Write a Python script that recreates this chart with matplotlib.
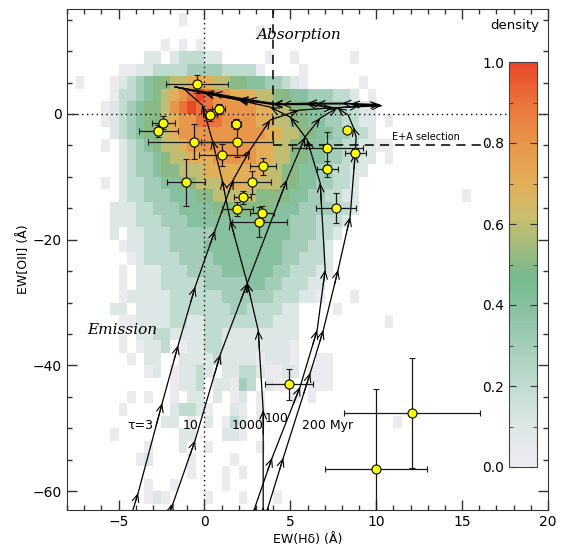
import numpy as np
import matplotlib
matplotlib.use('Agg')
import matplotlib.pyplot as plt
from matplotlib.colors import LinearSegmentedColormap

# ---- density map: bins 0.5 A (Hd) x 2 A (OII), rows from OII=16 down to -64
# '.' empty, '0' trace, '1'..'9' tenths, 'X' = 1.0
# column groups: [-8,-3) [-3,2) [2,7) [7,12) [12,16)
hd_edges = np.arange(-8.0, 16.01, 0.5)
oii_edges = np.arange(16.0, -64.01, -2.0)
density_rows = [
    ".......... ...0...... .......... .......... ........",  # 14..16
    ".......... .......... ..0....... .......... ........",  # 12..14
    ".......... .0.0.0.... .......... .......... ........",  # 10..12
    ".........1 1.122211.. ...0..0... ...0...... ........",  # 8..10
    "......0011 2222333322 220....0.. .......... ........",  # 6..8
    ".0...01234 5566777665 54433210.. ....0..... ........",  # 4..6
    ".....02234 56789X9887 7766554433 3221.0.... ........",  # 2..4
    "....012345 5689X99888 8877665544 332211.... ........",  # 0..2
    "....012345 5678899988 8877665544 332211.0.. ........",  # -2..0
    ".....12345 5678888888 8887766554 433221.... ........",  # -4..-2
    "....0.1234 5667888888 8877665544 33221100.. ........",  # -6..-4
    "......1233 4566777888 8877665544 332211.0.. ........",  # -8..-6
    "......1233 4556667777 7776655443 32211..... ........",  # -10..-8
    "....0.1223 3445566677 7766655443 3221...... ........",  # -12..-10
    "......1223 3344455666 6655554433 2211...... ......0.",  # -14..-12
    ".....11122 3334444555 5555444333 3221...... ........",  # -16..-14
    ".....11122 2333444444 4444443332 221....... ........",  # -18..-16
    ".....1.112 2233333444 4444443332 21........ ........",  # -20..-18
    "......0112 2233334444 4444433322 1......... ........",  # -22..-20
    ".......012 2223333444 4444433222 1......... ........",  # -24..-22
    "......0.11 1222333344 4444332221 1......... ........",  # -26..-24
    "......0.11 1222223333 3443322211 .......... ........",  # -28..-26
    "......0111 1122222233 3333222110 ...0...... ........",  # -30..-28
    ".....11.11 1122222223 3222211... .0........ ........",  # -32..-30
    "......0011 1122112222 2222111... .......0.. ........",  # -34..-32
    "......0.11 2211112211 1111111... .......... ........",  # -36..-34
    "......0.01 12.0112211 1111110... .......... ........",  # -38..-36
    ".......0.1 1..1111211 1101110..0 0......... ........",  # -40..-38
    ".........0 1.01121.11 2210011.00 0......... ........",  # -42..-40
    ".......... ..0112.110 32.100..00 0......... ........",  # -44..-42
    ".......0.0 ..0.11.1.0 1.0...0.0. .......... ........",  # -46..-44
    "......0... ..12210..1 0.0....... .......... ........",  # -48..-46
    ".......... .11.0.1.02 1.0....... ........0. ........",  # -50..-48
    ".....0.... ...11...11 0......... .......... ........",  # -52..-50
    ".........0 ...1..0... ..0....... .......... ........",  # -54..-52
    "........01 ....0....0 .......... .......... ........",  # -56..-54
    ".......... ....0...0. 0......... .......... ........",  # -58..-56
    ".........0 ..0.....0. .......... .......... ........",  # -60..-58
    ".........0 10....0... 0...0..... .......... ........",  # -62..-60
    ".......... .......... .......... .......... ........",  # -64..-62
]

# ---- galaxies: EW(Hd), EW[OII] and errors
hd = [-0.44, 0.82, 0.33, 1.82, -0.58, 1.89, 1.01, 3.40, 2.76, -1.08, -2.39, -2.68,
      2.24, 1.92, 3.34, 3.19, 8.29, 7.16, 8.78, 7.16, 7.65, 4.93, 12.08, 9.98]
oii = [4.77, 0.80, -0.16, -1.60, -4.40, -4.40, -6.60, -8.35, -10.9, -10.9, -1.40, -2.70,
       -13.25, -15.1, -15.7, -17.2, -2.55, -5.45, -6.20, -8.80, -15.0, -43.0, -47.6, -56.5]
hd_err = [1.8, 0.4, 0.4, 0.3, 2.7, 2.1, 1.35, 0.75, 1.1, 1.1, 0.65, 1.15,
          0.5, 0.9, 0.7, 1.6, 0.0, 2.07, 0.6, 0.6, 1.15, 1.4, 3.95, 2.96]
oii_err = [1.45, 0.8, 1.0, 0.8, 2.8, 2.4, 1.75, 1.35, 1.8, 3.7, 1.0, 1.0,
           1.0, 1.1, 1.1, 2.4, 0.0, 2.6, 0.7, 1.3, 2.35, 2.45, 8.75, 12.7]

# ---- model tracks (burst + exponential decay, tau in Myr)
tau3_x = [-4.5, -3.86, -2.46, -1.53, -0.54, 0.62, 1.67, 2.66, 3.83, 5.5, 7.5, 10.3,
          8.5, 6.5, 4.5, 2.5, 0.5, -1.7]
tau3_y = [-66.0, -60.3, -46.0, -36.8, -27.5, -18.5, -10.5, -5.7, -0.95, 0.6, 1.0, 1.3,
          1.6, 1.6, 1.5, 2.3, 3.3, 4.3]
tau10_x = [-2.2, -1.82, -0.54, 0.92, 2.5, 4.8, 5.86, 6.74, 7.73, 9.0, 10.2,
           8.0, 6.0, 4.0, 2.0, 0.0, -1.7]
tau10_y = [-65.0, -61.9, -51.9, -38.3, -26.9, -10.5, -3.66, -0.64, 0.95, 1.3, 1.5,
           1.7, 1.7, 1.6, 2.4, 3.4, 4.3]
tau1000_x = [3.42, 3.42, 3.42, 3.13, 2.49, 1.5, 1.03, 0.45, -0.13, -1.24]
tau1000_y = [-66.0, -62.5, -47.1, -34.4, -26.9, -16.9, -10.5, -4.1, 1.43, 4.1]
tau100_x = [2.75, 2.95, 3.94, 5.57, 6.56, 7.03, 6.74, 5.98, 5.0, 3.83, 2.0, 0.0, -1.7]
tau100_y = [-66.0, -62.5, -54.7, -43.4, -34.4, -24.8, -11.0, -4.1, -0.5, 1.1, 2.2, 3.3, 4.3]
tau200_x = [3.5, 3.71, 4.59, 6.16, 6.92, 7.78, 8.48, 8.78, 8.83, 8.66, 8.37, 7.73,
            6.0, 4.0, 2.0, 0.0, -1.7]
tau200_y = [-66.0, -62.5, -54.7, -41.2, -34.4, -24.8, -16.4, -6.2, -3.66, -2.07, -0.16, 0.95,
            1.5, 1.5, 2.3, 3.3, 4.3]
tracks = [(tau3_x, tau3_y), (tau10_x, tau10_y), (tau1000_x, tau1000_y),
          (tau100_x, tau100_y), (tau200_x, tau200_y)]
track_labels = ['\u03c4=3', '10', '1000', '100', '200 Myr']

cmap = LinearSegmentedColormap.from_list('dens', [
    (0.00, '#efebf3'), (0.10, '#dde7e5'), (0.20, '#c0dbd0'), (0.30, '#a3cdb9'),
    (0.40, '#86c09f'), (0.47, '#77b98e'), (0.55, '#a5bb7b'), (0.62, '#cbbd6d'),
    (0.70, '#e2ae58'), (0.80, '#e8964a'), (0.90, '#ea733b'), (1.00, '#e9472a')])

lev = {'.': np.nan, '0': 0.03, 'X': 1.0}
for d in '123456789':
    lev[d] = int(d) / 10.0
grid = np.array([[lev[c] for c in r.replace(' ', '')] for r in density_rows])
grid = np.ma.masked_invalid(grid)

fig = plt.figure(figsize=(5.62, 5.49), dpi=100)
ax = fig.add_axes([67/562, 39/549, 481/562, 501/549])
ax.set_xlim(-8, 20)
ax.set_ylim(-63.0, 16.7)

mesh = ax.pcolormesh(hd_edges, oii_edges, grid, cmap=cmap, vmin=0, vmax=1,
                     shading='flat', zorder=0)

ax.axvline(0, color='k', ls=(0, (1, 2.5)), lw=1.0, zorder=1)
ax.axhline(0, color='k', ls=(0, (1, 2.5)), lw=1.0, zorder=1)
# E+A selection box
ax.plot([4, 4], [16.7, -5], color='k', ls=(0, (6, 4)), lw=1.1, zorder=2)
ax.plot([4, 16.5], [-5, -5], color='k', ls=(0, (6, 4)), lw=1.1, zorder=2)

# tracks with open arrow heads
for tx, ty in tracks:
    ax.plot(tx, ty, color='k', lw=0.9, zorder=3)
    last = None
    for i in range(1, len(tx) - 1):
        if ty[i] < -62.5:
            continue
        p = ax.transData.transform((tx[i], ty[i]))
        if last is not None and np.hypot(*(p - last)) < 18:
            continue
        last = p
        bx = tx[i] - 0.25 * (tx[i] - tx[i-1])
        by = ty[i] - 0.25 * (ty[i] - ty[i-1])
        ann = ax.annotate('', xy=(tx[i], ty[i]), xytext=(bx, by),
                          arrowprops=dict(arrowstyle='->,head_length=0.5,head_width=0.22',
                                          color='k', lw=0.8, shrinkA=0, shrinkB=0,
                                          mutation_scale=11), zorder=3)
        ann.arrow_patch.set_clip_box(ax.bbox)

ax.errorbar(hd, oii, xerr=hd_err, yerr=oii_err, fmt='o', mfc='#ffff00', mec='k',
            ms=6.5, mew=0.8, ecolor='#1a1a1a', elinewidth=0.9, capsize=2.5,
            capthick=0.9, zorder=5)

ax.text(5.49, 12.57, 'Absorption', family='DejaVu Serif', style='italic',
        fontsize=11, ha='center', va='center')
ax.text(-4.79, -34.4, 'Emission', family='DejaVu Serif', style='italic',
        fontsize=11, ha='center', va='center')
ax.text(12.88, -3.66, 'E+A selection', fontsize=7, ha='center', va='center')

lab_x = [-3.72, -0.83, 2.49, 4.18, 5.69]
lab_y = [-49.6, -49.6, -49.6, -48.4, -49.6]
lab_ha = ['center', 'center', 'center', 'center', 'left']
for s, x, y, h in zip(track_labels, lab_x, lab_y, lab_ha):
    ax.text(x, y, s, fontsize=9, ha=h, va='center')

ax.set_xticks(np.arange(-5, 21, 5))
ax.set_xticks(np.arange(-8, 21, 1), minor=True)
ax.set_yticks([-60, -40, -20, 0])
ax.set_yticks(np.arange(-60, 17, 5), minor=True)
ax.tick_params(which='both', direction='in', top=True, right=True, labelsize=10,
               color='#333333')
ax.tick_params(which='major', length=7, width=1)
ax.tick_params(which='minor', length=3.5, width=1)
for sp in ax.spines.values():
    sp.set_color('#333333')
ax.set_xlabel('EW(H\u03b4) (\u00c5)', fontsize=9, labelpad=3)
ax.set_ylabel('EW[OII] (\u00c5)', fontsize=9, labelpad=2)

cax = fig.add_axes([509/562, (549-467)/549, 28/562, (467-62)/549])
cb = fig.colorbar(mesh, cax=cax)
cb.set_ticks(np.arange(0, 1.01, 0.2))
cb.ax.set_yticks(np.arange(0, 1.01, 0.1), minor=True)
cb.ax.yaxis.set_ticks_position('both')
cb.ax.tick_params(which='both', direction='in', left=True, right=True,
                  labelleft=True, labelright=False, labelsize=10, color='#333333')
cb.ax.tick_params(which='major', length=5)
cb.ax.tick_params(which='minor', length=3)
cb.ax.yaxis.set_major_formatter(matplotlib.ticker.FormatStrFormatter('%.1f'))
cb.outline.set_edgecolor('#444444')
fig.text(539/562, 1 - 25/549, 'density', fontsize=9.5, ha='right', va='center')

fig.savefig('out.png', dpi=100)
